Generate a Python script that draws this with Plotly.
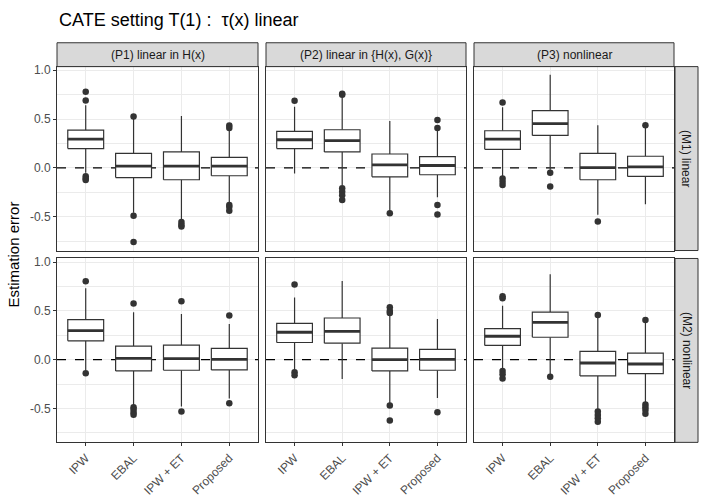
import plotly.graph_objects as go

# ---------------- data ----------------
methods = ["IPW", "EBAL", "IPW + ET", "Proposed"]
props = ["(P1) linear in H(x)", "(P2) linear in {H(x), G(x)}", "(P3) nonlinear"]
models = ["(M1) linear", "(M2) nonlinear"]

# panel order: P1M1, P2M1, P3M1, P1M2, P2M2, P3M2
LOWER = [
    [-0.05, -0.46, -0.53, -0.36],
    [-0.058, -0.176, -0.447, -0.30],
    [-0.09, -0.02, -0.48, -0.373],
    [-0.108, -0.464, -0.48, -0.397],
    [-0.108, -0.197, -0.447, -0.393],
    [-0.09, -0.149, -0.515, -0.44],
]
Q1 = [
    [0.197, -0.10, -0.122, -0.081],
    [0.197, 0.163, -0.092, -0.071],
    [0.19, 0.332, -0.122, -0.088],
    [0.193, -0.115, -0.108, -0.105],
    [0.176, 0.169, -0.115, -0.108],
    [0.146, 0.23, -0.166, -0.142],
]
MEDIAN = [
    [0.295, 0.017, 0.017, 0.017],
    [0.288, 0.278, 0.03, 0.024],
    [0.295, 0.454, 0.003, 0.01],
    [0.298, 0.014, 0.01, 0.003],
    [0.281, 0.29, 0.0, 0.003],
    [0.24, 0.383, -0.034, -0.044],
]
Q3 = [
    [0.386, 0.149, 0.163, 0.108],
    [0.373, 0.39, 0.142, 0.115],
    [0.38, 0.586, 0.149, 0.119],
    [0.41, 0.139, 0.149, 0.115],
    [0.373, 0.427, 0.119, 0.105],
    [0.319, 0.488, 0.085, 0.068],
]
UPPER = [
    [0.64, 0.50, 0.53, 0.38],
    [0.627, 0.72, 0.48, 0.383],
    [0.62, 0.953, 0.437, 0.42],
    [0.732, 0.485, 0.468, 0.366],
    [0.637, 0.807, 0.46, 0.417],
    [0.553, 0.875, 0.434, 0.383],
]
OUTLIERS = [
    [[0.78, 0.69, -0.085, -0.11, -0.125], [0.525, -0.49, -0.76],
     [-0.555, -0.583, -0.60], [0.434, 0.407, -0.38, -0.40, -0.44]],
    [[0.688], [0.76, 0.75, -0.21, -0.245, -0.28, -0.33],
     [-0.464], [0.49, 0.407, -0.38, -0.478]],
    [[0.67, -0.108, -0.142, -0.176], [-0.05, -0.19],
     [-0.55], [0.437]],
    [[0.803, -0.139], [0.576, -0.488, -0.51, -0.54, -0.565],
     [0.6, -0.53], [0.454, -0.447]],
    [[0.77, -0.129, -0.159], [],
     [0.536, 0.50, 0.478, -0.47, -0.624], [-0.539]],
    [[0.65, 0.63, -0.115, -0.149, -0.193], [-0.176],
     [0.458, -0.532, -0.566, -0.6, -0.637], [0.407, -0.458, -0.488, -0.515, -0.553]],
]
y_ticks = [-0.5, 0.0, 0.5, 1.0]
y_ticktext = ["-0.5", "0.0", "0.5", "1.0"]
REF_LINE = 0.0

# ---------------- layout geometry ----------------
W, H = 706, 504
cols_px = [(57, 258), (266, 466), (474, 674)]
rows_px = [(64, 249), (257, 442)]
XRANGE = [0.4, 4.6]
BOXW = 0.75
DARK = "#333333"
GRID = "#EBEBEB"
TICKFONT = dict(size=12, color="#4D4D4D")
STRIPFONT = dict(size=12, color="#1A1A1A")

fig = go.Figure()
layout = dict(
    width=W, height=H, margin=dict(l=0, r=0, t=0, b=0),
    paper_bgcolor="white", plot_bgcolor="white", showlegend=False,
    font=dict(family="Liberation Sans, Arial, sans-serif", color="#4D4D4D", size=12),
)
shapes = []
annotations = []
xpos = list(range(1, len(methods) + 1))
half = BOXW / 2

for r in range(2):
    for c in range(3):
        k = r * 3 + c
        idx = k + 1
        xa = "x" if idx == 1 else f"x{idx}"
        ya = "y" if idx == 1 else f"y{idx}"
        xkey = "xaxis" if idx == 1 else f"xaxis{idx}"
        ykey = "yaxis" if idx == 1 else f"yaxis{idx}"
        x0, x1 = cols_px[c]
        y0, y1 = rows_px[r]
        layout[xkey] = dict(
            domain=[x0 / W, x1 / W], anchor=ya, range=XRANGE,
            tickvals=xpos, ticktext=methods if r == 1 else [""] * 4,
            showticklabels=(r == 1), tickangle=-45,
            ticks="outside" if r == 1 else "", ticklen=3, tickcolor=DARK,
            showgrid=True, gridcolor=GRID, gridwidth=1.1,
            showline=True, linecolor=DARK, linewidth=1, mirror=True,
            zeroline=False, tickfont=TICKFONT,
        )
        layout[ykey] = dict(
            domain=[1 - y1 / H, 1 - y0 / H], anchor=xa, range=[-0.847, 1.037],
            tickvals=y_ticks, ticktext=y_ticktext, showticklabels=(c == 0),
            ticks="outside" if c == 0 else "", ticklen=3, tickcolor=DARK,
            showgrid=True, gridcolor=GRID, gridwidth=1.1,
            minor=dict(tickvals=[-0.75, -0.25, 0.25, 0.75], showgrid=True,
                       gridcolor=GRID, gridwidth=0.5, ticks=""),
            showline=True, linecolor=DARK, linewidth=1, mirror=True,
            zeroline=False, tickfont=TICKFONT,
        )
        # dashed zero line (drawn first, beneath the boxes)
        fig.add_trace(go.Scatter(
            x=XRANGE, y=[REF_LINE, REF_LINE], mode="lines",
            line=dict(color="black", width=1.2, dash="dash"),
            xaxis=xa, yaxis=ya, hoverinfo="skip",
        ))
        # whiskers
        wx, wy = [], []
        for i, lo, q1, q3, up in zip(xpos, LOWER[k], Q1[k], Q3[k], UPPER[k]):
            wx += [i, i, None, i, i, None]
            wy += [q3, up, None, q1, lo, None]
        fig.add_trace(go.Scatter(
            x=wx, y=wy, mode="lines", line=dict(color=DARK, width=1.2),
            xaxis=xa, yaxis=ya, hoverinfo="skip",
        ))
        # boxes (white filled rectangles from Q1 to Q3)
        bx, by = [], []
        for i, q1, q3 in zip(xpos, Q1[k], Q3[k]):
            bx += [i - half, i + half, i + half, i - half, i - half, None]
            by += [q1, q1, q3, q3, q1, None]
        fig.add_trace(go.Scatter(
            x=bx, y=by, mode="lines", fill="toself", fillcolor="white",
            line=dict(color=DARK, width=1.2),
            xaxis=xa, yaxis=ya, hoverinfo="skip",
        ))
        # thick median lines
        mx, my = [], []
        for i, m in zip(xpos, MEDIAN[k]):
            mx += [i - half, i + half, None]
            my += [m, m, None]
        fig.add_trace(go.Scatter(
            x=mx, y=my, mode="lines", line=dict(color=DARK, width=2.8),
            xaxis=xa, yaxis=ya, hoverinfo="skip",
        ))
        # outliers
        ox, oy = [], []
        for i, pts in zip(xpos, OUTLIERS[k]):
            ox += [i] * len(pts)
            oy += pts
        fig.add_trace(go.Scatter(
            x=ox, y=oy, mode="markers",
            marker=dict(color=DARK, size=6.5, line=dict(width=0)),
            xaxis=xa, yaxis=ya, hoverinfo="skip",
        ))

# top strips
for c in range(3):
    x0, x1 = cols_px[c]
    shapes.append(dict(type="rect", xref="paper", yref="paper",
                       x0=x0 / W, x1=x1 / W, y0=1 - 64 / H, y1=1 - 40 / H,
                       fillcolor="#D9D9D9", line=dict(color=DARK, width=1)))
    annotations.append(dict(text=props[c], xref="paper", yref="paper",
                            x=(x0 + x1) / 2 / W, y=1 - 52 / H, showarrow=False,
                            xanchor="center", yanchor="middle", font=STRIPFONT))
# right strips
for r in range(2):
    y0, y1 = rows_px[r]
    shapes.append(dict(type="rect", xref="paper", yref="paper",
                       x0=675 / W, x1=698 / W, y0=1 - y1 / H, y1=1 - y0 / H,
                       fillcolor="#D9D9D9", line=dict(color=DARK, width=1)))
    annotations.append(dict(text=models[r], xref="paper", yref="paper",
                            x=686.5 / W, y=1 - (y0 + y1) / 2 / H, showarrow=False,
                            textangle=90, xanchor="center", yanchor="middle",
                            font=STRIPFONT))

# title & axis title
annotations.append(dict(text="CATE setting T(1) :  τ(x) linear", xref="paper", yref="paper",
                        x=57 / W, y=1 - 17 / H, showarrow=False,
                        xanchor="left", yanchor="middle",
                        font=dict(size=18, color="black")))
annotations.append(dict(text="Estimation error", xref="paper", yref="paper",
                        x=13 / W, y=1 - 253 / H, showarrow=False, textangle=-90,
                        xanchor="center", yanchor="middle",
                        font=dict(size=15, color="black")))

layout["shapes"] = shapes
layout["annotations"] = annotations
fig.update_layout(**layout)
fig.write_html("out.html", config={"displayModeBar": False},
               post_script="document.body.style.margin='0';")
